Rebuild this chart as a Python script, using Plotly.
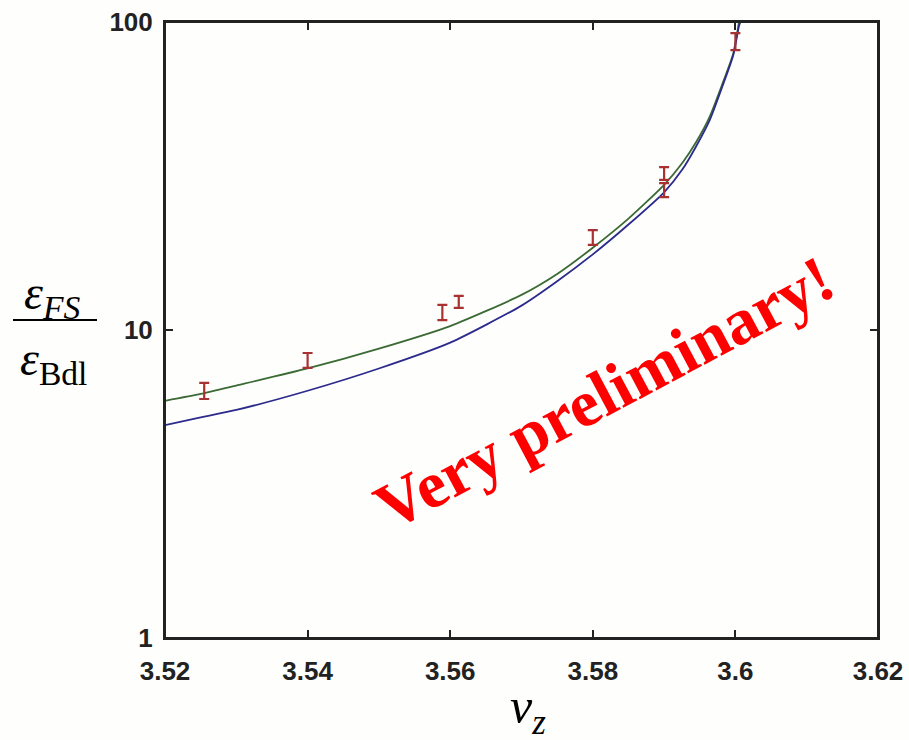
import plotly.graph_objects as go

# ---- data ----
green_x = [3.52, 3.525, 3.53, 3.54, 3.55, 3.56, 3.57, 3.575, 3.58, 3.585, 3.59,
           3.5926, 3.5945, 3.5964, 3.5982, 3.5997, 3.6005]
green_y = [5.89, 6.2, 6.6, 7.5, 8.7, 10.3, 13.0, 15.2, 18.5, 23.0, 29.6,
           35.0, 40.8, 49.3, 63.2, 79.1, 100]

blue_x = [3.52, 3.525, 3.53, 3.54, 3.55, 3.56, 3.57, 3.575, 3.58, 3.585, 3.59,
          3.5926, 3.5945, 3.5964, 3.5982, 3.5997, 3.6005, 3.6007]
blue_y = [4.91, 5.2, 5.5, 6.35, 7.5, 9.1, 12.0, 14.4, 17.6, 22.0, 28.0,
          33.3, 39.5, 48.0, 62.0, 78.0, 97.0, 100]

meas_x = [3.5255, 3.54, 3.5589, 3.5612, 3.58, 3.59, 3.59, 3.6]
meas_y = [6.34, 8.0, 11.4, 12.3, 20.0, 32.3, 28.5, 86]
meas_hi = [6.73, 8.42, 12.06, 12.9, 21.1, 33.8, 30.0, 92]
meas_lo = [5.97, 7.53, 10.77, 11.8, 18.9, 30.7, 27.0, 81]

x_ticks = [3.52, 3.54, 3.56, 3.58, 3.6, 3.62]
x_tick_text = ["3.52", "3.54", "3.56", "3.58", "3.6", "3.62"]
y_ticks = [1, 10, 100]
y_tick_text = ["1", "10", "100"]

# ---- layout geometry (pixels) ----
W, H = 909, 740
L, R, T, B = 165, 878, 22, 638
PW, PH = R - L, B - T


def px(xp):
    return (xp - L) / PW


def py(yp):
    return (B - yp) / PH


fig = go.Figure()
fig.add_trace(go.Scatter(x=green_x, y=green_y, mode="lines",
                         line=dict(color="#3b6a34", width=1.8, shape="spline", smoothing=0.6),
                         showlegend=False, hoverinfo="skip"))
fig.add_trace(go.Scatter(x=blue_x, y=blue_y, mode="lines",
                         line=dict(color="#2c2a8c", width=1.8, shape="spline", smoothing=0.6),
                         showlegend=False, hoverinfo="skip"))
fig.add_trace(go.Scatter(
    x=meas_x, y=meas_y, mode="markers",
    marker=dict(size=1, color="#a83232"),
    error_y=dict(type="data", symmetric=False,
                 array=[h - v for h, v in zip(meas_hi, meas_y)],
                 arrayminus=[v - l for v, l in zip(meas_y, meas_lo)],
                 color="#a83232", thickness=2.2, width=5),
    showlegend=False))

axis_common = dict(showline=True, linecolor="#222", linewidth=2, mirror="ticks",
                   ticks="inside", ticklen=8, tickwidth=2, tickcolor="#222",
                   showgrid=False, zeroline=False, ticklabeloverflow="allow",
                   automargin=False,
                   tickfont=dict(family="Liberation Sans, Arial", size=26, color="#222", weight="bold"))

fig.update_xaxes(range=[3.52, 3.62], tickvals=x_ticks, ticktext=x_tick_text,
                 ticklabelstandoff=9, **axis_common)
fig.update_yaxes(type="log", range=[0, 2], tickvals=y_ticks, ticktext=y_tick_text,
                 ticklabelstandoff=5, **axis_common)

serif = "Liberation Serif, Times New Roman, serif"
annotations = [
    dict(x=px(52), y=py(296), text="<i>ε</i><sub><i>FS</i></sub>",
         font=dict(family=serif, size=48, color="black")),
    dict(x=px(53), y=py(362), text="<i>ε</i><sub>Bdl</sub>",
         font=dict(family=serif, size=48, color="black")),
    dict(x=px(528), y=py(710), text="<i>ν</i><sub><i>z</i></sub>",
         font=dict(family=serif, size=50, color="black")),
    dict(x=px(604), y=py(392), text="<b>Very preliminary!</b>", textangle=-28,
         font=dict(family=serif, size=66, color="#ff0000")),
]
for a in annotations:
    a.update(xref="paper", yref="paper", showarrow=False, xanchor="center", yanchor="middle")

fig.update_layout(
    width=W, height=H,
    margin=dict(l=L, r=W - R, t=T, b=H - B, autoexpand=False),
    paper_bgcolor="#fefefc", plot_bgcolor="#fefefc",
    annotations=annotations,
    shapes=[
        dict(type="line", xref="paper", yref="paper",
             x0=px(13), x1=px(97), y0=py(320), y1=py(320),
             line=dict(color="black", width=2)),
        dict(type="rect", xref="paper", yref="paper", x0=0, x1=1, y0=0, y1=1,
             line=dict(color="#222", width=2), layer="above"),
    ],
)

fig.write_html("out.html", config={"displayModeBar": False},
               post_script="document.body.style.margin='0';document.body.style.overflow='hidden';")
